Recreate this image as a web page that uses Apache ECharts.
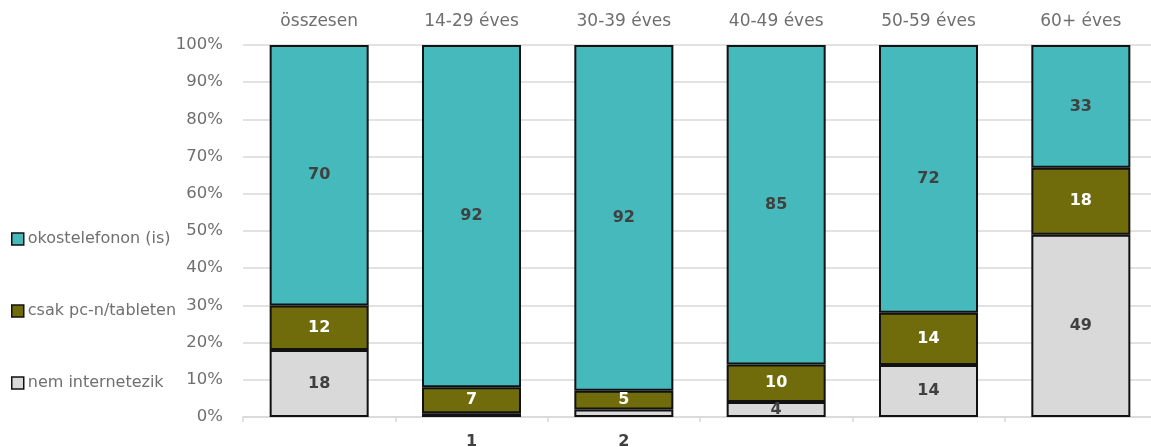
<!DOCTYPE html>
<html>
<head>
<meta charset="utf-8">
<script src="https://cdn.jsdelivr.net/npm/echarts@6/dist/echarts.min.js"></script>
<style>
html,body{margin:0;padding:0;background:#fff;}
#chart{width:1151px;height:447px;}
</style>
</head>
<body>
<div id="chart"></div>
<script>
const categories = ['összesen', '14-29 éves', '30-39 éves', '40-49 éves', '50-59 éves', '60+ éves'];
const nemInternetezik = [18, 1, 2, 4, 14, 49];
const csakPcTablet = [12, 7, 5, 10, 14, 18];
const okostelefonon = [70, 92, 92, 85, 72, 33];
const seriesNames = ['nem internetezik', 'csak pc-n/tableten', 'okostelefonon (is)'];
const yMin = 0, yMax = 100, yInterval = 10;

const raw = [nemInternetezik, csakPcTablet, okostelefonon];
const totals = categories.map((c, i) => raw.reduce((s, arr) => s + arr[i], 0));
const colors = ['#D9D9D9', '#706C0B', '#45B9BB'];
const labelColors = ['#404040', '#ffffff', '#404040'];
const FONT = 'DejaVu Sans';

const series = raw.map((arr, si) => ({
  name: seriesNames[si],
  type: 'bar',
  stack: 'total',
  barWidth: '65%',
  xAxisIndex: 0,
  itemStyle: { color: colors[si], borderColor: '#111', borderWidth: 2 },
  label: {
    show: true,
    position: 'inside',
    color: labelColors[si],
    fontFamily: FONT,
    fontWeight: 'bold',
    fontSize: 16,
    formatter: p => String(arr[p.dataIndex])
  },
  data: arr.map((v, i) => {
    const item = { value: v / totals[i] * 100 };
    if (v < 3) {
      item.label = { position: 'bottom', distance: 17, color: '#404040' };
    }
    return item;
  })
}));

const chart = echarts.init(document.getElementById('chart'));
chart.setOption({
  animation: false,
  backgroundColor: '#fff',
  grid: { left: 243, top: 45, width: 914, height: 372, containLabel: false, outerBoundsMode: 'none' },
  legend: {
    orient: 'vertical',
    left: 6,
    top: 226,
    icon: 'rect',
    itemWidth: 12,
    itemHeight: 12,
    itemGap: 56,
    data: ['okostelefonon (is)', 'csak pc-n/tableten', 'nem internetezik'],
    itemStyle: { borderColor: '#111', borderWidth: 1.5 },
    textStyle: { fontFamily: FONT, fontSize: 16, color: '#6f6f6f', lineHeight: 16, padding: [0, 0, 0, -1] }
  },
  xAxis: [
    {
      type: 'category',
      data: categories,
      position: 'bottom',
      axisLine: { show: true, lineStyle: { color: '#d9d9d9', width: 1.5 } },
      axisTick: { show: true, length: 5, lineStyle: { color: '#d9d9d9', width: 1.5 } },
      axisLabel: { show: false },
      splitLine: { show: false }
    },
    {
      type: 'category',
      data: categories,
      position: 'top',
      axisLine: { show: false },
      axisTick: { show: false },
      axisLabel: { show: true, margin: 15, fontFamily: FONT, fontSize: 17, color: '#6f6f6f' },
      splitLine: { show: false }
    }
  ],
  yAxis: {
    type: 'value',
    min: yMin,
    max: yMax,
    interval: yInterval,
    axisLine: { show: false },
    axisTick: { show: false },
    splitLine: { show: true, lineStyle: { color: '#d9d9d9', width: 1.5 } },
    axisLabel: { margin: 20, fontFamily: FONT, fontSize: 16.5, color: '#6f6f6f', formatter: '{value}%' }
  },
  series: series
});
</script>
</body>
</html>
